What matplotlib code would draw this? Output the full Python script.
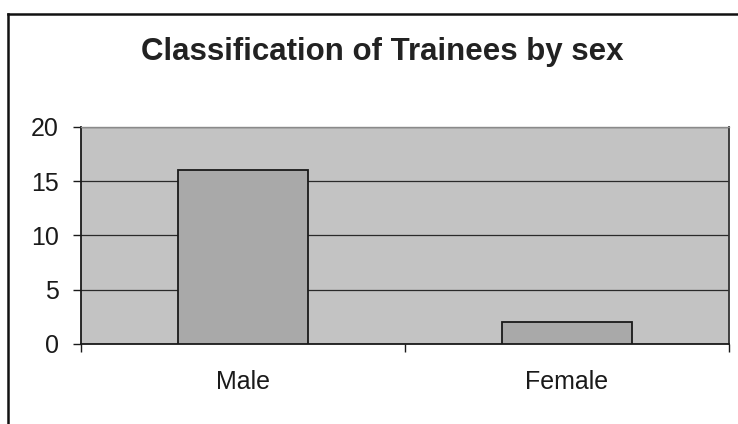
import numpy as np
import matplotlib
matplotlib.use('Agg')
import matplotlib.pyplot as plt

# Données
categories = ['Male', 'Female']
trainees = [16, 2]
y_ticks = [0, 5, 10, 15, 20]

plt.rcParams['font.family'] = ['Liberation Sans', 'DejaVu Sans']

fig = plt.figure(figsize=(7.38, 4.24), dpi=100)
ax = fig.add_axes([0.1098, 0.1887, 0.8780, 0.5118])

x = np.arange(len(categories))
ax.set_facecolor('#c3c3c3')
ax.bar(x, trainees, width=0.4, color='#a9a9a9', edgecolor='#1a1a1a', linewidth=1.3, zorder=3)

ax.set_xlim(-0.5, len(categories) - 0.5)
ax.set_ylim(0, 20)
ax.set_yticks(y_ticks)
ax.yaxis.grid(True, color='#2a2a2a', linewidth=0.9, zorder=1)
ax.set_axisbelow(True)

ax.set_xticks(x)
ax.set_xticklabels(categories)
ax.set_xticks(np.arange(-0.5, len(categories)), minor=True)
ax.tick_params(axis='x', which='major', length=0, pad=19, labelsize=18, colors='#1a1a1a')
ax.tick_params(axis='x', which='minor', length=6, width=1, direction='out', color='#1a1a1a')
ax.tick_params(axis='y', length=6, width=1, direction='out', pad=10, labelsize=18, colors='#1a1a1a')

for side in ['left', 'bottom']:
    ax.spines[side].set_color('#1a1a1a')
    ax.spines[side].set_linewidth(1.3)
ax.spines['top'].set_color('#8a8a8a')
ax.spines['top'].set_linewidth(1)
ax.spines['right'].set_color('#333333')
ax.spines['right'].set_linewidth(1.3)

fig.text(0.518, 0.877, 'Classification of Trainees by sex', ha='center', va='center',
         fontsize=22.5, fontweight='bold', color='#222222')

# Cadre du graphique (haut et gauche visibles sur le scan)
fig.add_artist(plt.Line2D([0.011, 1.0], [0.967, 0.967], transform=fig.transFigure,
                          color='#111111', linewidth=1.8))
fig.add_artist(plt.Line2D([0.011, 0.011], [0.0, 0.967], transform=fig.transFigure,
                          color='#111111', linewidth=1.8))

plt.savefig('out.png', dpi=100)
plt.close()
